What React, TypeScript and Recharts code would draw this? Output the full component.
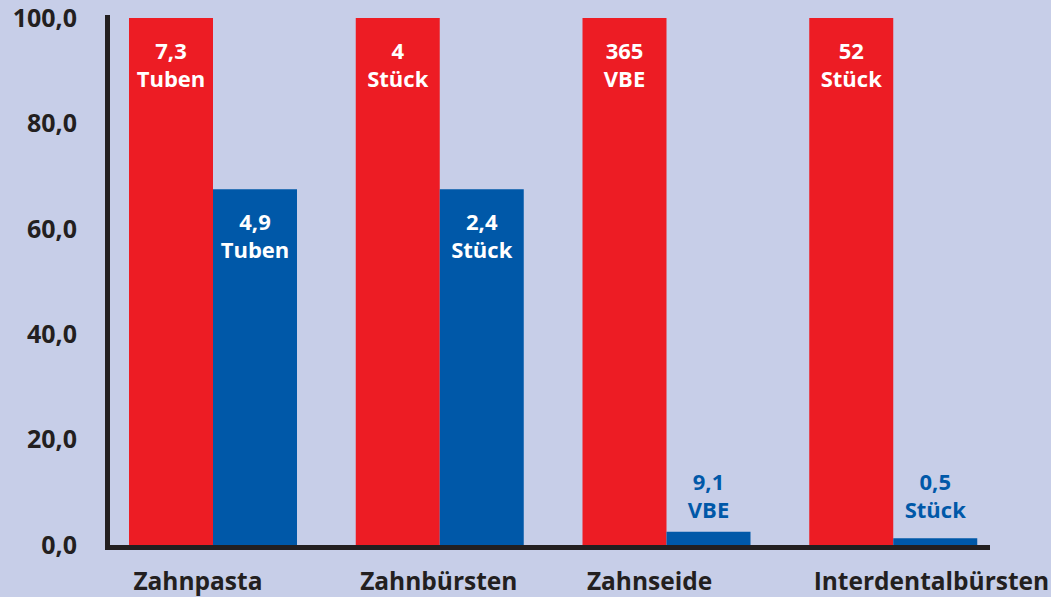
import React from "react";
import { BarChart, Bar, XAxis, YAxis, LabelList } from "recharts";

const categories = ["Zahnpasta", "Zahnbürsten", "Zahnseide", "Interdentalbürsten"];
const bedarf = [100, 100, 100, 100];
const verbrauch = [67.5, 67.5, 2.5, 1.3];
const bedarfLabels = [["7,3", "Tuben"], ["4", "Stück"], ["365", "VBE"], ["52", "Stück"]];
const verbrauchLabels = [["4,9", "Tuben"], ["2,4", "Stück"], ["9,1", "VBE"], ["0,5", "Stück"]];
const yTicks = [0, 20, 40, 60, 80, 100];

const data = categories.map((name, i) => ({ name, bedarf: bedarf[i], verbrauch: verbrauch[i] }));

const BG = "#c7cee8";
const RED = "#ed1c24";
const BLUE = "#0058a8";
const DARK = "#231f20";
const FONT = "'Open Sans', sans-serif";

function makeLabel(lines: string[][]) {
  return (props: any) => {
    const { x, y, width, height, index } = props;
    const cx = Number(x) + Number(width) / 2;
    const top = Number(y);
    const bottom = top + Number(height);
    const inside = Number(height) > 100;
    const y1 = inside ? top + 41 : bottom - 55;
    const y2 = inside ? top + 69 : bottom - 27;
    const fill = inside ? "#fff" : BLUE;
    return (
      <g>
        <text x={cx} y={y1} textAnchor="middle" fill={fill} fontFamily={FONT} fontWeight={700} fontSize={22}>
          {lines[index][0]}
        </text>
        <text x={cx} y={y2} textAnchor="middle" fill={fill} fontFamily={FONT} fontWeight={700} fontSize={22}>
          {lines[index][1]}
        </text>
      </g>
    );
  };
}

function CategoryTick(props: any) {
  const { x, y, payload } = props;
  return (
    <text x={x - 80} y={y + 45} textAnchor="start" fill={DARK} fontFamily={FONT} fontWeight={700} fontSize={24.5}>
      {payload.value}
    </text>
  );
}

export default function App() {
  return (
    <div style={{ position: "absolute", left: 0, top: 0, width: 1051, height: 597, background: BG }}>
      <BarChart
        width={1051}
        height={597}
        data={data}
        margin={{ top: 18, right: 44, left: 0, bottom: 0 }}
        barGap={0}
        barSize={84}
      >
        <XAxis
          dataKey="name"
          axisLine={false}
          tickLine={false}
          tickSize={0}
          tickMargin={0}
          height={52}
          interval={0}
          tick={<CategoryTick />}
        />
        <YAxis
          domain={[0, 100]}
          ticks={yTicks}
          width={100}
          axisLine={false}
          tickLine={false}
          tickSize={0}
          tickMargin={23}
          tickFormatter={(v: number) => v.toFixed(1).replace(".", ",")}
          tick={{ fill: DARK, fontFamily: FONT, fontWeight: 700, fontSize: 25 }}
        />
        <Bar dataKey="bedarf" fill={RED} isAnimationActive={false}>
          <LabelList dataKey="bedarf" content={makeLabel(bedarfLabels)} />
        </Bar>
        <Bar dataKey="verbrauch" fill={BLUE} isAnimationActive={false}>
          <LabelList dataKey="verbrauch" content={makeLabel(verbrauchLabels)} />
        </Bar>
      </BarChart>
      <div style={{ position: "absolute", left: 105, top: 15, width: 5, height: 535, background: DARK }} />
      <div style={{ position: "absolute", left: 105, top: 545, width: 885, height: 5, background: DARK }} />
    </div>
  );
}
